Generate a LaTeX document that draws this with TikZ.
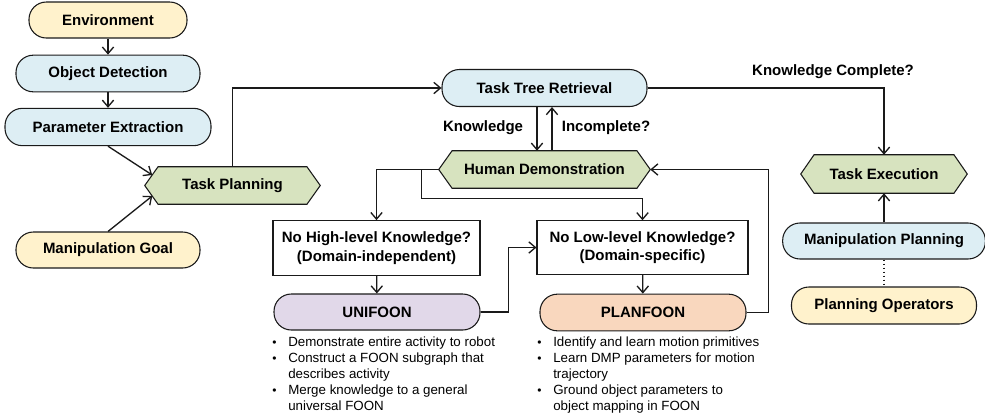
\documentclass[tikz,border=0pt]{standalone}
\usepackage{fontspec}
\setmainfont{Liberation Sans}
\usepackage{graphicx}
\usetikzlibrary{arrows.meta,calc,backgrounds}
\definecolor{cyel}{HTML}{FFF2CC}
\definecolor{cblue}{HTML}{DDEEF4}
\definecolor{cgreen}{HTML}{D7E3BF}
\definecolor{cpurp}{HTML}{E1D8E9}
\definecolor{cpeach}{HTML}{F9D7BE}
\definecolor{cline}{HTML}{1A1A1A}
\newcommand{\bfont}{\fontsize{11.25}{13.8}\selectfont\bfseries}
\newcommand{\blt}{\makebox[12pt][l]{\raisebox{0.3pt}{\scalebox{0.9}{•}}}}
\tikzset{
  pill/.style={draw=cline, line width=0.8pt, rounded corners=13pt, font=\bfont, inner sep=0pt, align=center},
  hexnode/.style={inner sep=0pt, font=\bfont, minimum height=27.75pt},
  hexdraw/.style={draw=cline, line width=0.8pt},
  qbox/.style={draw=cline, line width=0.8pt, fill=white, align=center, font=\bfont, inner sep=0pt},
  arr/.style={draw=cline, line width=1pt, -{Straight Barb[length=5pt,width=8.5pt]}},
  plain/.style={draw=cline, line width=1pt},
  lbl/.style={font=\bfont, inner sep=0pt},
  blist/.style={font=\fontsize{10}{12}\selectfont, inner sep=0pt, anchor=north west, align=left}
}
\begin{document}
\begin{tikzpicture}[x=0.75pt,y=-0.75pt]
\useasboundingbox (0,0) rectangle (985,419);

% left column
\node[pill, fill=cyel, minimum width=118.5pt, minimum height=27pt] (env) at (108,20) {Environment};
\node[pill, fill=cblue, minimum width=138pt, minimum height=27.5pt] (od) at (108,73.5) {Object Detection};
\node[pill, fill=cblue, minimum width=154.5pt, minimum height=28pt] (pe) at (108,127) {Parameter Extraction};
\node[hexnode, minimum width=131.25pt] (tp) at (232.5,185.5) {Task Planning};
\node[pill, fill=cyel, minimum width=138pt, minimum height=27pt] (mg) at (108,250) {Manipulation Goal};

% middle
\node[pill, fill=cblue, minimum width=153.75pt, minimum height=27.75pt] (ttr) at (544.5,88) {Task Tree Retrieval};
\node[hexnode, minimum width=158.25pt] (hd) at (544.5,169.5) {Human Demonstration};
\node[qbox, minimum width=155.25pt, minimum height=41pt] (nh) at (376.5,248) {No High-level Knowledge?\\(Domain-independent)};
\node[qbox, minimum width=158.25pt, minimum height=40pt] (nl) at (642.5,247.5) {No Low-level Knowledge?\\(Domain-specific)};
\node[pill, fill=cpurp, minimum width=154.5pt, minimum height=27pt] (uni) at (377,312) {UNIFOON};
\node[pill, fill=cpeach, minimum width=154.5pt, minimum height=27.5pt] (plan) at (643,312.5) {PLANFOON};

% right
\node[hexnode, minimum width=124.5pt, minimum height=28.5pt] (te) at (884,174) {Task Execution};
\node[pill, fill=cblue, minimum width=152pt, minimum height=27pt] (mp) at (884,241) {Manipulation Planning};
\node[pill, fill=cyel, minimum width=138.75pt, minimum height=27.75pt] (po) at (884,305.5) {Planning Operators};

% hexagons
\begin{scope}[on background layer]
\foreach \n in {tp,hd,te}{
  \draw[hexdraw, fill=cgreen] (\n.west) -- ([xshift=10pt]\n.north west) -- ([xshift=-10pt]\n.north east)
    -- (\n.east) -- ([xshift=-10pt]\n.south east) -- ([xshift=10pt]\n.south west) -- cycle;
}
\end{scope}

% labels
\node[lbl] (lk) at (483,128) {Knowledge};
\node[lbl] (li) at (606,128) {Incomplete?};
\node[lbl] (lkc) at (833,72) {Knowledge Complete?};

% bullet lists
\node[blist] (ul) at (272,336.5) {%
\blt Demonstrate entire activity to robot\\
\blt Construct a FOON subgraph that\\
\hspace*{12pt}describes activity\\
\blt Merge knowledge to a general\\
\hspace*{12pt}universal FOON};
\node[blist] (pl) at (537,336.5) {%
\blt Identify and learn motion primitives\\
\blt Learn DMP parameters for motion\\
\hspace*{12pt}trajectory\\
\blt Ground object parameters to\\
\hspace*{12pt}object mapping in FOON};

% connectors
\draw[arr] (env) -- (od);
\draw[arr] (od) -- (pe);
\draw[arr] (pe.south) -- ($(tp.west)+(7.5,-10.5)$);
\draw[arr] (mg.north) -- ($(tp.west)+(7.5,10.5)$);
\draw[arr] (tp.north) |- (ttr.west);
\draw[arr] ($(ttr.south)+(-7.5,0)$) -- ($(hd.north)+(-7.5,0)$);
\draw[arr] ($(hd.north)+(7.5,0)$) -- ($(ttr.south)+(7.5,0)$);
\draw[arr] (ttr.east) -| (te.north);
\draw[arr] (mp.north) -- (te.south);
\draw[plain, dotted] (mp.south) -- (po.north);
\draw[arr] (hd.west) -| (nh.north);
\coordinate (hdb) at ($(hd.west)+(-17,0)$);
\draw[arr] (hdb) -- ++(0,29) -| (nl.north);
\draw[arr] (nh) -- (uni);
\draw[arr] (nl) -- (plan);
\draw[arr] (uni.east) -- ++(28,0) |- (nl.west);
\draw[arr] (plan.east) -- ++(22,0) |- (hd.east);
\end{tikzpicture}
\end{document}
